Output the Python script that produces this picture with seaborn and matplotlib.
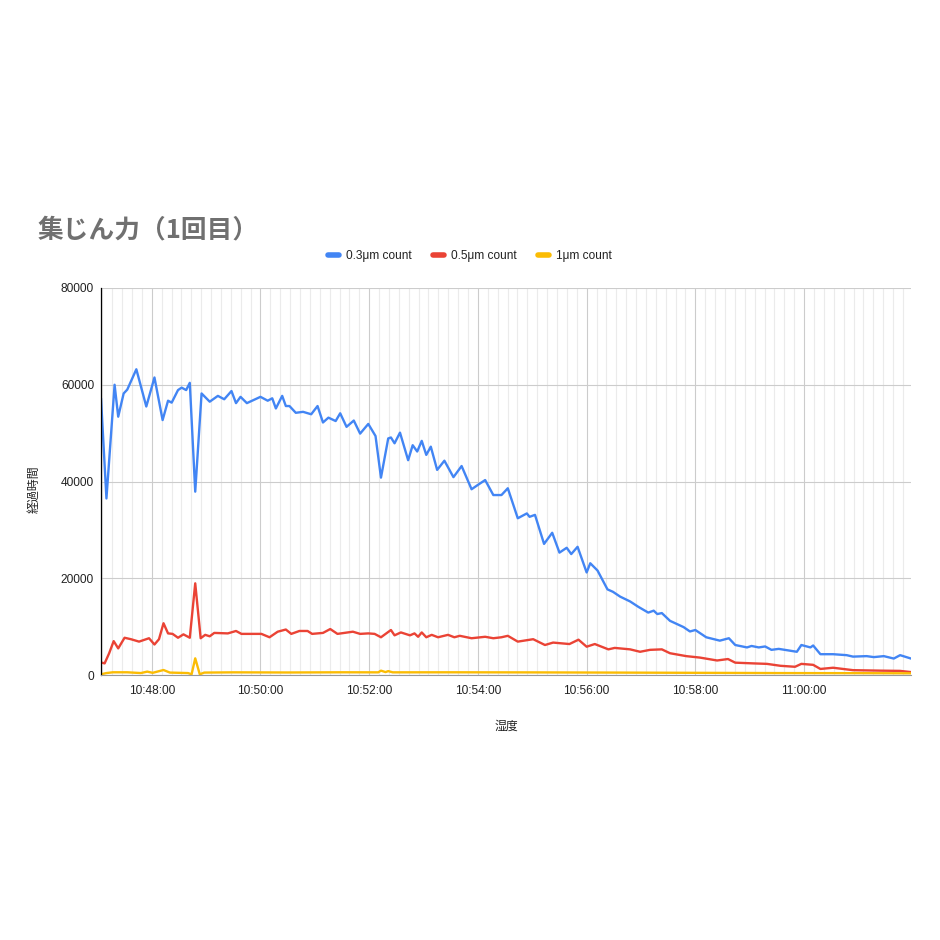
import pandas as pd
import matplotlib
matplotlib.use('Agg')
import matplotlib.pyplot as plt
import matplotlib.dates as mdates
from matplotlib.ticker import MultipleLocator
from matplotlib.lines import Line2D
import seaborn as sns

# 0.3um count
t_03 = ['10:47:04', '10:47:10', '10:47:19', '10:47:23', '10:47:29', '10:47:33', '10:47:43', '10:47:54',
        '10:48:03', '10:48:12', '10:48:18', '10:48:22', '10:48:29', '10:48:33', '10:48:38', '10:48:42',
        '10:48:48', '10:48:55', '10:49:04', '10:49:13', '10:49:20', '10:49:28', '10:49:33', '10:49:38',
        '10:49:45', '10:50:00', '10:50:08', '10:50:13', '10:50:17', '10:50:24', '10:50:28', '10:50:32',
        '10:50:39', '10:50:47', '10:50:56', '10:51:03', '10:51:09', '10:51:15', '10:51:23', '10:51:28',
        '10:51:35', '10:51:43', '10:51:50', '10:51:59', '10:52:07', '10:52:13', '10:52:21', '10:52:24',
        '10:52:28', '10:52:34', '10:52:43', '10:52:48', '10:52:53', '10:52:58', '10:53:03', '10:53:08',
        '10:53:15', '10:53:23', '10:53:33', '10:53:42', '10:53:53', '10:54:00', '10:54:08', '10:54:17',
        '10:54:26', '10:54:33', '10:54:44', '10:54:54', '10:54:57', '10:55:03', '10:55:13', '10:55:22',
        '10:55:30', '10:55:38', '10:55:43', '10:55:50', '10:56:00', '10:56:04', '10:56:12', '10:56:23',
        '10:56:29', '10:56:37', '10:56:48', '10:56:57', '10:57:08', '10:57:14', '10:57:18', '10:57:23',
        '10:57:32', '10:57:47', '10:57:54', '10:58:00', '10:58:12', '10:58:27', '10:58:37', '10:58:44',
        '10:58:57', '10:59:02', '10:59:10', '10:59:17', '10:59:24', '10:59:32', '10:59:52', '10:59:57',
        '11:00:07', '11:00:10', '11:00:18', '11:00:32', '11:00:47', '11:00:54', '11:01:09', '11:01:17',
        '11:01:28', '11:01:39', '11:01:46', '11:01:58']
v_03 = [57200, 36500, 60000, 53400, 58200, 59000, 63200, 55500,
        61500, 52700, 56700, 56300, 58900, 59400, 58900, 60400,
        37900, 58200, 56500, 57700, 57000, 58700, 56200, 57500,
        56200, 57500, 56700, 57200, 55100, 57700, 55600, 55600,
        54200, 54400, 53900, 55600, 52200, 53200, 52500, 54100,
        51300, 52600, 49900, 51900, 49400, 40800, 48900, 49100,
        47900, 50100, 44400, 47500, 46200, 48400, 45500, 47200,
        42400, 44300, 40900, 43200, 38400, 39300, 40300, 37200,
        37200, 38600, 32400, 33400, 32700, 33100, 27100, 29400,
        25300, 26300, 25000, 26500, 21200, 23100, 21600, 17700,
        17200, 16200, 15200, 14100, 12900, 13300, 12600, 12800,
        11200, 9900, 9000, 9300, 7800, 7100, 7600, 6200,
        5700, 6000, 5700, 5900, 5200, 5400, 4800, 6200,
        5700, 6100, 4300, 4300, 4100, 3800, 3900, 3700,
        3900, 3400, 4100, 3400]

# 0.5um count
t_05 = ['10:47:04', '10:47:08', '10:47:13', '10:47:18', '10:47:23', '10:47:30', '10:47:37', '10:47:46',
        '10:47:57', '10:48:03', '10:48:08', '10:48:13', '10:48:18', '10:48:23', '10:48:29', '10:48:35',
        '10:48:42', '10:48:48', '10:48:54', '10:48:59', '10:49:04', '10:49:09', '10:49:24', '10:49:33',
        '10:49:39', '10:49:53', '10:50:01', '10:50:10', '10:50:19', '10:50:28', '10:50:34', '10:50:43',
        '10:50:52', '10:50:57', '10:51:09', '10:51:17', '10:51:25', '10:51:42', '10:51:50', '10:51:59',
        '10:52:06', '10:52:13', '10:52:24', '10:52:28', '10:52:35', '10:52:45', '10:52:50', '10:52:54',
        '10:52:58', '10:53:03', '10:53:09', '10:53:16', '10:53:27', '10:53:34', '10:53:40', '10:53:53',
        '10:54:08', '10:54:17', '10:54:26', '10:54:33', '10:54:44', '10:55:01', '10:55:14', '10:55:23',
        '10:55:41', '10:55:51', '10:56:00', '10:56:09', '10:56:24', '10:56:31', '10:56:48', '10:56:59',
        '10:57:10', '10:57:23', '10:57:32', '10:57:50', '10:58:05', '10:58:24', '10:58:36', '10:58:44',
        '10:59:04', '10:59:19', '10:59:34', '10:59:50', '10:59:57', '11:00:10', '11:00:18', '11:00:32',
        '11:00:54', '11:01:24', '11:01:46', '11:01:58']
v_05 = [2600, 2400, 4500, 7000, 5500, 7700, 7400, 6900,
        7600, 6300, 7400, 10700, 8600, 8500, 7700, 8400,
        7700, 18950, 7600, 8300, 8000, 8700, 8600, 9100,
        8500, 8500, 8500, 7800, 8950, 9400, 8500, 9100,
        9100, 8500, 8700, 9500, 8500, 8950, 8500, 8600,
        8500, 7800, 9300, 8200, 8800, 8200, 8600, 7900,
        8800, 7800, 8300, 7800, 8300, 7800, 8100, 7600,
        7900, 7600, 7800, 8100, 6900, 7400, 6200, 6700,
        6400, 7300, 5850, 6400, 5300, 5600, 5300, 4800,
        5200, 5300, 4500, 3900, 3600, 3000, 3300, 2550,
        2400, 2300, 1900, 1700, 2300, 2100, 1250, 1500,
        1000, 900, 850, 600]

# 1um count
t_1 = ['10:47:04', '10:47:10', '10:47:17', '10:47:33', '10:47:48', '10:47:55', '10:48:01', '10:48:13',
       '10:48:20', '10:48:40', '10:48:44', '10:48:48', '10:48:53', '10:48:58', '10:49:30', '10:50:30',
       '10:51:30', '10:52:10', '10:52:13', '10:52:18', '10:52:21', '10:52:26', '10:53:30', '10:55:00',
       '10:56:30', '10:58:00', '10:59:30', '11:01:00', '11:01:58']
v_1 = [150, 400, 560, 560, 400, 700, 450, 1030,
       500, 400, 150, 3450, 150, 500, 550, 520,
       560, 550, 900, 600, 800, 550, 560, 540,
       500, 450, 400, 380, 350]

series_names = ['0.3μm count', '0.5μm count', '1μm count']
colors = ['#4285F4', '#EA4335', '#FBBC04']

frames = []
for name, tt, vv in zip(series_names, [t_03, t_05, t_1], [v_03, v_05, v_1]):
    frames.append(pd.DataFrame({'time': pd.to_datetime(['2024-01-01 ' + s for s in tt]),
                                'value': vv, 'series': name}))
df = pd.concat(frames, ignore_index=True)

sns.set_style('white')
plt.rcParams['font.family'] = ['Liberation Sans', 'Noto Sans CJK JP', 'DejaVu Sans']

fig = plt.figure(figsize=(9.4, 9.4), dpi=100)
ax = fig.add_axes([101 / 940, 1 - 675 / 940, 810 / 940, 387 / 940])

sns.lineplot(data=df, x='time', y='value', hue='series', hue_order=series_names,
             palette=colors, estimator=None, linewidth=1.7, legend=False, ax=ax)

ax.set_xlim(df['time'].min(), df['time'].max())
ax.set_ylim(0, 80000)
ax.set_yticks([0, 20000, 40000, 60000, 80000])

ax.xaxis.set_major_locator(mdates.MinuteLocator(byminute=range(0, 60, 2)))
ax.xaxis.set_major_formatter(mdates.DateFormatter('%H:%M:%S'))
ax.xaxis.set_minor_locator(MultipleLocator(120 / 11 / 86400))

ax.grid(True, which='major', axis='both', color='#cccccc', linewidth=0.8)
ax.grid(True, which='minor', axis='x', color='#ebebeb', linewidth=0.8)
ax.set_axisbelow(True)

for s in ['top', 'right']:
    ax.spines[s].set_visible(False)
ax.spines['left'].set_color('#000000')
ax.spines['left'].set_linewidth(0.9)
ax.spines['bottom'].set_color('#999999')
ax.spines['bottom'].set_linewidth(0.8)

ax.tick_params(axis='x', which='major', direction='inout', length=8, width=0.9,
               color='#000000', labelsize=8.6, labelcolor='#222222', pad=3)
ax.tick_params(axis='x', which='minor', length=0)
ax.tick_params(axis='y', length=0, labelsize=8.6, labelcolor='#222222', pad=5)

ax.set_xlabel('湿度', fontsize=8.6, color='#222222')
ax.set_ylabel('経過時間', fontsize=8.6, color='#222222')
ax.xaxis.set_label_coords(0.5, -0.118)
ax.yaxis.set_label_coords(-0.074, 0.48)

fig.text(38 / 940, 1 - 230 / 940, '集じん力（1回目）', fontsize=18.5, fontweight='bold',
         color='#707070', va='center', ha='left', family=['Noto Sans CJK JP', 'DejaVu Sans'])

handles = [Line2D([0], [0], color=c, linewidth=4, solid_capstyle='round') for c in colors]
fig.legend(handles, series_names, loc='center', bbox_to_anchor=(470 / 940, 1 - 256 / 940),
           ncol=3, frameon=False, fontsize=8.6, handlelength=0.9, handletextpad=0.6,
           columnspacing=1.8, labelcolor='#222222')

plt.savefig('out.png', dpi=100)
